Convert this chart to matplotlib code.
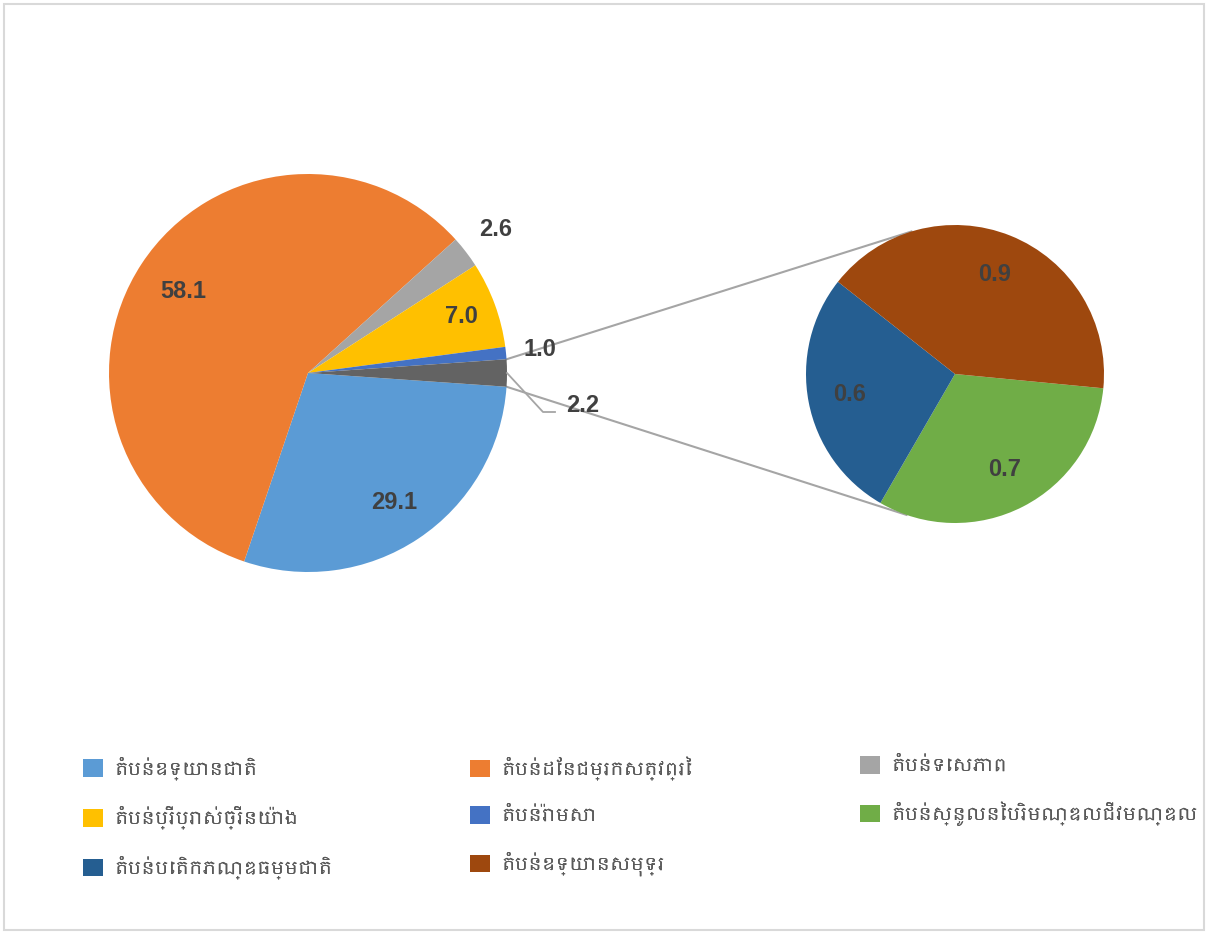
import numpy as np
import matplotlib
matplotlib.use('Agg')
import matplotlib.pyplot as plt
import matplotlib.font_manager as fm
from matplotlib.patches import Patch, Rectangle

# data
main_labels = ['តំបន់ឧទ្យានជាតិ', 'តំបន់ដែនជម្រកសត្វព្រៃ', 'តំបន់ទេសភាព',
               'តំបន់ប្រើប្រាស់ច្រើនយ៉ាង', 'តំបន់រ៉ាមសា', 'ផ្សេងៗ']
main_values = [29.1, 58.1, 2.6, 7.0, 1.0, 2.2]
main_colors = ['#5B9BD5', '#ED7D31', '#A5A5A5', '#FFC000', '#4472C4', '#636363']

sub_labels = ['តំបន់ស្នូលនៃបរិមណ្ឌលជីវមណ្ឌល', 'តំបន់បេតិកភណ្ឌធម្មជាតិ', 'តំបន់ឧទ្យានសមុទ្រ']
sub_values = [0.7, 0.6, 0.9]
sub_colors = ['#70AD47', '#255E91', '#9E480E']

khmer = [f.name for f in fm.fontManager.ttflist if 'khmer' in f.name.lower()]
legend_family = khmer[:1] + ['DejaVu Sans']

W, H = 1208, 934
fig = plt.figure(figsize=(W / 100, H / 100), dpi=100)
ax = fig.add_axes([0, 0, 1, 1])

c1, r1 = (308, 561), 199
c2, r2 = (955, 560), 149

start = -360 * main_values[-1] / sum(main_values) / 2
w1, _ = ax.pie(main_values, colors=main_colors, center=c1, radius=r1,
               startangle=start, counterclock=False, frame=True,
               wedgeprops=dict(linewidth=0))
w2, _ = ax.pie(sub_values, colors=sub_colors, center=c2, radius=r2,
               startangle=-5.5, counterclock=False, frame=True,
               wedgeprops=dict(linewidth=0))
ax.set_xlim(0, W)
ax.set_ylim(0, H)
ax.set_aspect('equal')
ax.axis('off')

lab_kw = dict(fontsize=17, fontweight='bold', color='#404040',
              family='Liberation Sans', ha='center', va='center')

def pt(c, r, ang):
    a = np.deg2rad(ang)
    return c[0] + r * np.cos(a), c[1] + r * np.sin(a)

main_dist = [0.78, 0.75, 1.19, 0.82, 1.17]
for w, v, d in zip(w1[:-1], main_values[:-1], main_dist):
    mid = (w.theta1 + w.theta2) / 2
    ax.text(*pt(c1, r1 * d, mid), f'{v:.1f}', **lab_kw)

# "other" label with leader line
other = w1[-1]
mid = (other.theta1 + other.theta2) / 2
x0, y0 = pt(c1, r1, mid)
ax.plot([x0, 543, 555], [y0, 522, 522], color='#A5A5A5', lw=1.3)
ax.text(566, 529, f'{main_values[-1]:.1f}', **dict(lab_kw, ha='left'))

for w, v in zip(w2, sub_values):
    mid = (w.theta1 + w.theta2) / 2
    ax.text(*pt(c2, r2 * 0.72, mid), f'{v:.1f}', **lab_kw)

# connector lines
for a1, a2 in [(other.theta2, 107), (other.theta1, -109)]:
    xa, ya = pt(c1, r1, a1)
    xb, yb = pt(c2, r2, a2)
    ax.plot([xa, xb], [ya, yb], color='#A5A5A5', lw=1.5, zorder=0)

# legend, row-wise in three columns
entries = list(zip(main_labels[:-1], main_colors[:-1])) + list(zip(sub_labels, sub_colors))
cols = [[0, 3, 6], [1, 4, 7], [2, 5]]
col_x = [67 / W, 454 / W, 844 / W]
for xs, idx in zip(col_x, cols):
    handles = [Patch(facecolor=entries[i][1], edgecolor='none') for i in idx]
    leg = fig.legend(handles, [entries[i][0] for i in idx], loc='upper left',
                     bbox_to_anchor=(xs, 1 - 740 / H), frameon=False,
                     prop=dict(family=legend_family, size=13),
                     handlelength=1.1, handleheight=1.1, labelspacing=1.45,
                     handletextpad=0.6, labelcolor='#595959')
    fig.add_artist(leg)

fig.add_artist(Rectangle((4 / W, 4 / H), 1 - 8 / W, 1 - 8 / H, transform=fig.transFigure,
                         fill=False, edgecolor='#D9D9D9', lw=1.5))

fig.savefig('out.png', dpi=100)
